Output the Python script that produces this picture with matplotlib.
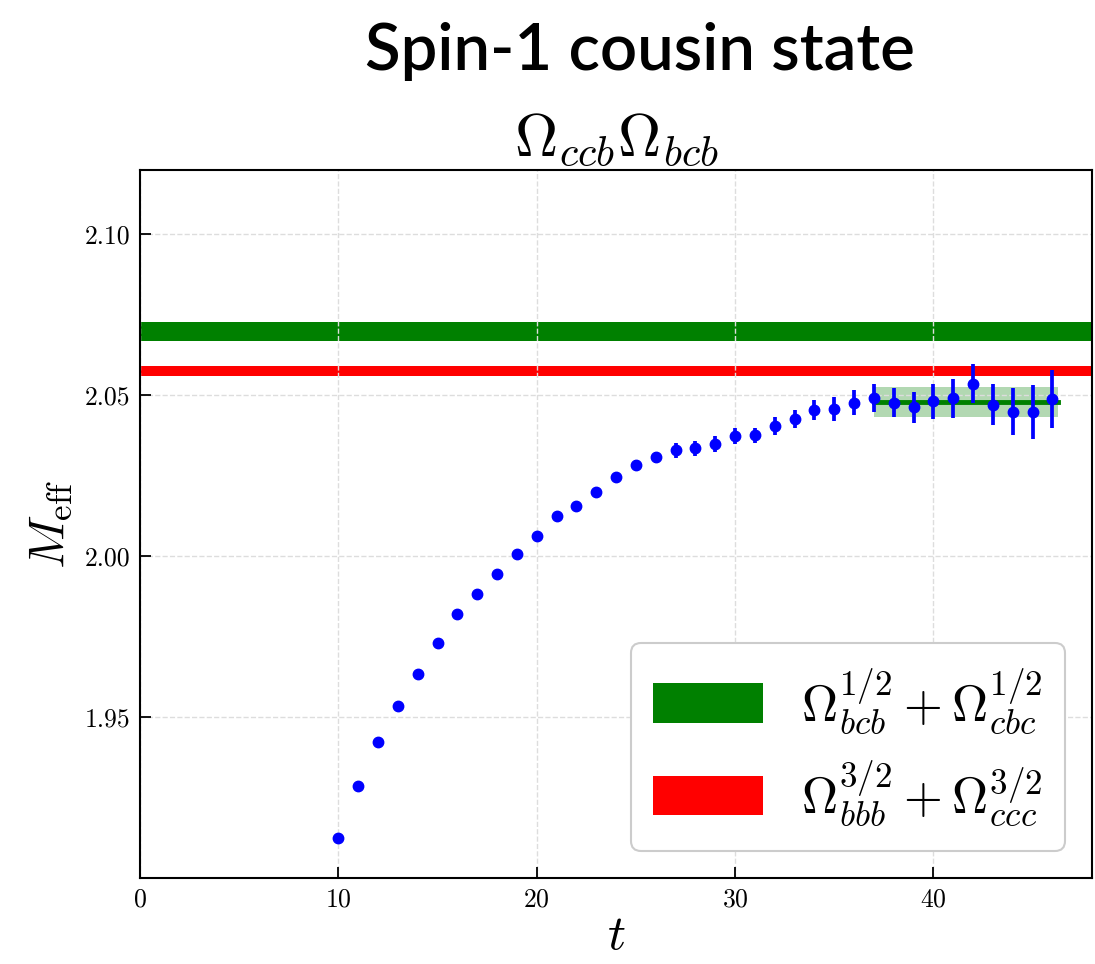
import numpy as np
import matplotlib
matplotlib.use('Agg')
import matplotlib.pyplot as plt

plt.rcParams['font.family'] = 'serif'
plt.rcParams['font.serif'] = ['cmr10']
plt.rcParams['mathtext.fontset'] = 'cm'
plt.rcParams['axes.formatter.use_mathtext'] = True
plt.rcParams['axes.unicode_minus'] = False

# effective mass data
t_vals = np.arange(10, 47)
m_eff = [1.9125, 1.9287, 1.9422, 1.9533, 1.9634, 1.9731, 1.9819, 1.9883,
         1.9945, 2.0007, 2.0063, 2.0124, 2.0157, 2.0200, 2.0247, 2.0284,
         2.0307, 2.0329, 2.0335, 2.0349, 2.0372, 2.0375, 2.0404, 2.0425,
         2.0453, 2.0457, 2.0477, 2.0492, 2.0477, 2.0463, 2.0481, 2.0490,
         2.0536, 2.0470, 2.0449, 2.0449, 2.0488]
m_err = [0.0004, 0.0004, 0.0004, 0.0005, 0.0005, 0.0005, 0.0006, 0.0006,
         0.0007, 0.0007, 0.0008, 0.0009, 0.0010, 0.0011, 0.0012, 0.0014,
         0.0018, 0.0023, 0.0024, 0.0025, 0.0025, 0.0024, 0.0027, 0.0028,
         0.0031, 0.0036, 0.0039, 0.0043, 0.0045, 0.0048, 0.0054, 0.0062,
         0.0060, 0.0064, 0.0074, 0.0084, 0.0090]

# plateau fit
fit_range = (37, 46.3)
fit_value = 2.0479
fit_err = 0.0046

# thresholds
thr_labels = [r'$\Omega_{bcb}^{1/2} + \Omega_{cbc}^{1/2}$',
              r'$\Omega_{bbb}^{3/2} + \Omega_{ccc}^{3/2}$']
thr_values = [2.0699, 2.0575]
thr_errs = [0.0029, 0.0015]
thr_colors = ['green', 'red']

fig = plt.figure(figsize=(10.95, 9.64), dpi=100)
ax = fig.add_axes([0.1279, 0.0892, 0.8694, 0.7345])

handles = []
for val, err, col, lab in zip(thr_values, thr_errs, thr_colors, thr_labels):
    h = ax.axhspan(val - err, val + err, color=col, lw=0, label=lab)
    handles.append(h)

ax.fill_between(fit_range, fit_value - fit_err, fit_value + fit_err,
                color='green', alpha=0.3, lw=0)
ax.plot(fit_range, [fit_value, fit_value], color='green', lw=3.5)

ax.errorbar(t_vals, m_eff, yerr=m_err, fmt='o', color='blue',
            ms=7.5, elinewidth=2.7, capsize=0)

ax.set_xlim(0, 48)
ax.set_ylim(1.90, 2.12)
ax.set_xticks([0, 10, 20, 30, 40])
ax.set_yticks([1.95, 2.00, 2.05, 2.10])
ax.yaxis.set_major_formatter(matplotlib.ticker.FormatStrFormatter('%.2f'))
ax.tick_params(direction='in', labelsize=18.5, length=8, width=1.3, pad=7)
ax.grid(True, linestyle='--', color='#dddddd', lw=1.0)
for s in ax.spines.values():
    s.set_linewidth(1.5)

ax.set_xlabel(r'$t$', fontsize=36, labelpad=1)
ax.set_ylabel(r'$M_{\rm eff}$', fontsize=36, labelpad=8)
ax.set_title(r'$\Omega_{ccb}\Omega_{bcb}$', fontsize=43, pad=10)

fig.text(0.5845, 0.927, 'Spin-1 cousin state', ha='center', va='baseline',
         fontsize=47, fontweight='semibold', family='Lato')

leg = ax.legend(handles=handles, loc='lower right', fontsize=36,
                handlelength=2.2, handleheight=0.85, labelspacing=0.45,
                handletextpad=0.75, borderpad=0.45, borderaxespad=0.55,
                framealpha=1, edgecolor='#cccccc', fancybox=True)
leg.get_frame().set_linewidth(1.5)

fig.savefig('out.png', dpi=100)
